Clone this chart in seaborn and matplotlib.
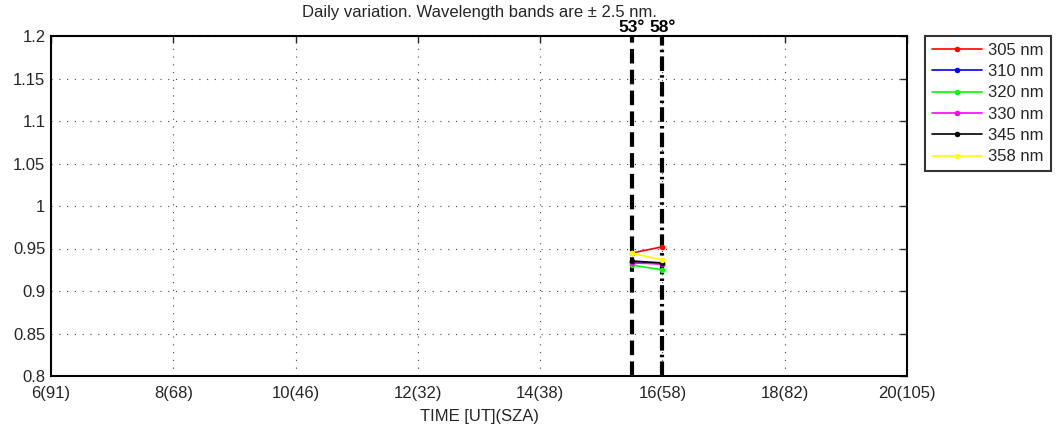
import matplotlib
matplotlib.use("Agg")
import matplotlib.pyplot as plt
import seaborn as sns
import pandas as pd
import numpy as np

times = [15.5, 16.0]
wavelengths = ["305 nm", "310 nm", "320 nm", "330 nm", "345 nm", "358 nm"]
colors = ["#ff0000", "#0000ff", "#00ff00", "#ff00ff", "#000000", "#ffff00"]
v305 = [0.9447, 0.9520]
v310 = [0.9340, 0.9320]
v320 = [0.9306, 0.9247]
v330 = [0.9330, 0.9318]
v345 = [0.9353, 0.9330]
v358 = [0.9443, 0.9365]
series = [v305, v310, v320, v330, v345, v358]

xticks = [6, 8, 10, 12, 14, 16, 18, 20]
xticklabels = ["6(91)", "8(68)", "10(46)", "12(32)", "14(38)", "16(58)", "18(82)", "20(105)"]
yticks = [0.8, 0.85, 0.9, 0.95, 1.0, 1.05, 1.1, 1.15, 1.2]
yticklabels = ["0.8", "0.85", "0.9", "0.95", "1", "1.05", "1.1", "1.15", "1.2"]
vline_times = [15.5, 16.0]
vline_labels = ["53°", "58°"]
vline_styles = [(0, (3.5, 1.5)), (0, (3.5, 1.0, 0.6, 1.0))]

rows = []
for wl, vals in zip(wavelengths, series):
    for t, v in zip(times, vals):
        rows.append({"time": t, "value": v, "band": wl})
df = pd.DataFrame(rows)

sns.set_style("white")
plt.rcParams["font.family"] = ["Liberation Sans", "DejaVu Sans"]

fig = plt.figure(figsize=(10.61, 4.30), dpi=100)
ax = fig.add_axes([51/1061, 1-376/430, (907-51)/1061, (376-36)/430])

sns.lineplot(data=df, x="time", y="value", hue="band", palette=colors,
             hue_order=wavelengths, marker="o", markersize=4, markeredgewidth=0,
             linewidth=1.2, ax=ax, legend=True)

for t, lab, ls in zip(vline_times, vline_labels, vline_styles):
    ax.axvline(t, color="black", linestyle=ls, linewidth=3, zorder=1)
    ax.text(t, 1.2015, lab, ha="center", va="bottom", fontsize=12.5,
            fontweight="bold", color="black")

ax.set_xlim(6, 20)
ax.set_ylim(0.8, 1.2)
ax.set_xticks(xticks)
ax.set_xticklabels(xticklabels, fontsize=12)
ax.set_yticks(yticks)
ax.set_yticklabels(yticklabels, fontsize=12)
ax.tick_params(direction="in", length=5, width=1, top=True, right=True)
ax.tick_params(axis="x", pad=7)
ax.tick_params(axis="y", pad=4)
ax.grid(True, linestyle=(0, (1, 6)), color="#444444", linewidth=0.8)
for s in ax.spines.values():
    s.set_linewidth(1.5)
    s.set_color("black")
ax.set_xlabel("TIME [UT](SZA)", fontsize=12, labelpad=6)
ax.set_ylabel("")
ax.set_title("Daily variation. Wavelength bands are ± 2.5 nm.", fontsize=12, pad=14)

leg = ax.legend(loc="upper left", bbox_to_anchor=((925-51)/856, 1.0), fontsize=12,
                frameon=True, fancybox=False, edgecolor="black", borderpad=0.4,
                handlelength=3.0, handletextpad=0.4, labelspacing=0.38, borderaxespad=0)
leg.get_frame().set_linewidth(1.5)

fig.savefig("out.png", dpi=100)
